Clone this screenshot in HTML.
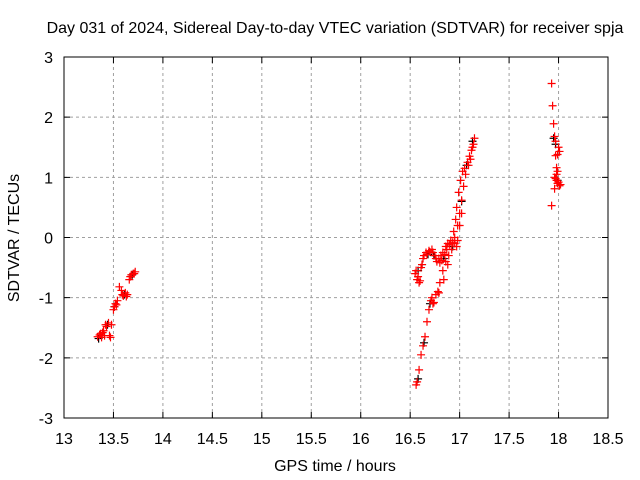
<!DOCTYPE html>
<html><head><meta charset="utf-8"><style>
body{margin:0;background:#fff}
svg{display:block;font-family:"Liberation Sans",sans-serif;font-size:16px}
</style></head><body>
<svg width="640" height="480">
<g id="grid"></g>
<g id="axes"></g>
<g id="marks"></g>
<rect x="64" y="57" width="544" height="361" fill="none" stroke="#000"/>
<text x="335" y="33" text-anchor="middle">Day 031 of 2024, Sidereal Day-to-day VTEC variation (SDTVAR) for receiver spja</text>
<text x="335" y="471" text-anchor="middle">GPS time / hours</text>
<text transform="translate(19,238) rotate(-90)" text-anchor="middle">SDTVAR / TECUs</text>
</svg>
<script>
const xTicks=[13,13.5,14,14.5,15,15.5,16,16.5,17,17.5,18,18.5];
const xTickLabels=["13","13.5","14","14.5","15","15.5","16","16.5","17","17.5","18","18.5"];
const yTicks=[-3,-2,-1,0,1,2,3];
const yTickLabels=["-3","-2","-1","0","1","2","3"];
const redX=[13.34,13.37,13.38,13.40,13.41,13.43,13.45,13.46,13.48,13.50,13.52,13.54,13.56,13.58,13.60,13.62,13.64,13.66,13.68,13.70,13.72,13.36,13.39,13.42,13.47,13.51,13.53,13.59,13.63,13.67,13.71,
16.55,16.57,16.59,16.61,16.63,16.66,16.69,16.72,16.75,16.77,16.79,16.81,16.83,16.86,16.88,16.91,16.94,16.96,16.97,16.99,17.01,17.03,17.05,17.08,17.10,17.12,17.14,17.15,
16.56,16.58,16.60,16.62,16.64,16.67,16.70,16.73,16.76,16.80,16.82,16.85,16.87,16.90,16.93,16.95,16.98,17.00,17.02,17.04,17.06,17.09,17.11,17.13,
16.56,16.57,16.59,16.61,16.63,16.65,16.67,16.69,16.71,16.73,16.76,16.78,16.80,16.83,16.86,16.89,16.92,16.95,16.98,17.00,17.02,16.72,16.74,16.79,16.84,16.88,16.97,
17.93,17.94,17.95,17.96,17.97,18.00,18.01,17.97,17.98,17.99,17.96,17.98,17.99,18.01,17.96,18.02,17.93,17.98,18.00,17.97,17.99];
const redY=[-1.65,-1.6,-1.66,-1.55,-1.63,-1.48,-1.42,-1.63,-1.45,-1.2,-1.1,-1.05,-0.82,-0.88,-0.97,-0.92,-0.95,-0.7,-0.62,-0.6,-0.57,-1.62,-1.58,-1.45,-1.66,-1.15,-1.12,-0.95,-0.98,-0.65,-0.6,
-0.6,-0.7,-0.75,-0.5,-0.35,-0.25,-0.22,-0.2,-0.3,-0.4,-0.35,-0.3,-0.25,-0.15,-0.1,-0.05,0.1,0.3,0.5,0.75,0.95,1.1,1.15,1.25,1.35,1.45,1.55,1.65,
-0.55,-0.65,-0.72,-0.45,-0.3,-0.28,-0.24,-0.25,-0.35,-0.42,-0.38,-0.28,-0.2,-0.12,-0.08,0.0,0.2,0.4,0.62,0.85,1.05,1.2,1.3,1.5,
-2.45,-2.4,-2.2,-1.95,-1.8,-1.65,-1.4,-1.2,-1.05,-1.1,-0.95,-0.9,-0.75,-0.55,-0.4,-0.3,-0.2,-0.1,-0.05,0.2,0.4,-1.0,-1.08,-0.92,-0.7,-0.45,-0.15,
2.56,2.19,1.89,1.68,1.6,1.5,1.43,1.36,1.16,1.1,1.0,0.95,0.9,0.86,0.81,0.88,0.53,1.05,0.92,0.98,1.38];
const blackX=[13.35,13.39,13.44,13.51,13.61,13.69,16.58,16.62,16.68,16.74,16.84,16.93,17.02,17.07,17.13,17.95,17.97,17.99,16.58,16.64,16.70];
const blackY=[-1.68,-1.58,-1.45,-1.15,-0.95,-0.62,-0.55,-0.45,-0.28,-0.3,-0.35,-0.15,0.6,1.2,1.6,1.65,1.55,0.95,-2.35,-1.75,-1.1];
const X0=64,X1=608,Y0=418,Y1=57;
const xs=v=>X0+(v-13)/(18.5-13)*(X1-X0);
const ys=v=>Y0-(v+3)/6*(Y0-Y1);
const NS="http://www.w3.org/2000/svg";
function mk(t,a,p){const e=document.createElementNS(NS,t);for(const k in a)e.setAttribute(k,a[k]);p.appendChild(e);return e;}
const grid=document.getElementById('grid'),axes=document.getElementById('axes'),marks=document.getElementById('marks');
xTicks.forEach((t,i)=>{const x=xs(t);
 if(i>0&&i<xTicks.length-1){const g=mk('line',{x1:x,x2:x,y1:Y0,y2:Y1,stroke:'#a0a0a0','stroke-dasharray':'3,3'},grid);}
 const tk=mk('path',{d:`M${x},${Y0}v-6M${x},${Y1}v6`,stroke:'#000'},axes);
 const l=mk('text',{x:x,y:444,'text-anchor':'middle'},axes);l.textContent=xTickLabels[i];});
yTicks.forEach((t,i)=>{const y=ys(t);
 if(i>0&&i<yTicks.length-1){const g=mk('line',{x1:X0,x2:X1,y1:y,y2:y,stroke:'#a0a0a0','stroke-dasharray':'3,3'},grid);}
 const tk=mk('path',{d:`M${X0},${y}h6M${X1},${y}h-6`,stroke:'#000'},axes);
 const l=mk('text',{x:53,y:y+6,'text-anchor':'end'},axes);l.textContent=yTickLabels[i];});
function cross(x,y,c,name){const p=mk('path',{d:`M${x-4},${y}h8M${x},${y-4}v8`,stroke:c,'stroke-width':1.2},marks);}
blackX.forEach((v,i)=>cross(xs(v),ys(blackY[i]),'#000','black-point'));
redX.forEach((v,i)=>cross(xs(v),ys(redY[i]),'#ff0000','red-point'));
</script>
</body></html>
